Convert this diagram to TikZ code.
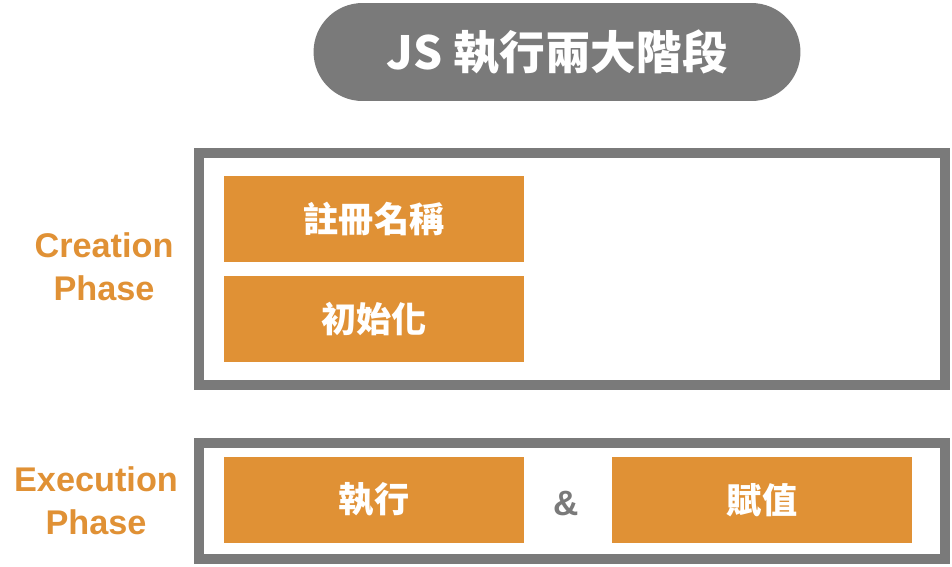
\documentclass[tikz,border=0pt]{standalone}
\usepackage{fontspec}
\setmainfont{Liberation Sans}
\newfontfamily\cjk{Noto Sans CJK TC}
\usetikzlibrary{positioning}
\definecolor{PhaseOrange}{RGB}{224,145,53}
\definecolor{PhaseGray}{RGB}{122,122,122}
\tikzset{
  titlepill/.style={fill=PhaseGray,rounded corners=0.98cm,minimum width=9.74cm,minimum height=1.96cm,inner sep=0pt,text=white,font=\cjk\bfseries\fontsize{26}{30}\selectfont},
  frame/.style={draw=PhaseGray,line width=0.2cm,minimum width=14.92cm,inner sep=0pt},
  obox/.style={fill=PhaseOrange,minimum width=6cm,minimum height=1.72cm,inner sep=0pt,text=white,font=\cjk\bfseries\fontsize{20}{24}\selectfont},
  phaselabel/.style={align=center,text=PhaseOrange,font=\bfseries\fontsize{19.5}{24.5}\selectfont},
}
\begin{document}
\begin{tikzpicture}[x=0.02cm,y=-0.02cm]
    \useasboundingbox (0,0) rectangle (952,566);
    \node[titlepill] (title) at (557,52) {JS\hspace{0.25em}執行兩大階段};
    %% Creation phase
    \node[frame,minimum height=4.64cm] (creation) at (572,269) {};
    \node[obox] (register) at (374,219) {註冊名稱};
    \node[obox] (init)     at (374,319) {初始化};
    \node[phaselabel] (creationlbl) at (104,267) {Creation\\Phase};
    %% Execution phase
    \node[frame,minimum height=2.32cm] (execution) at (572,501) {};
    \node[obox] (run)    at (374,500) {執行};
    \node[obox] (assign) at (762,500) {賦值};
    \node[text=PhaseGray,font=\bfseries\fontsize{20}{24}\selectfont] (amp) at (566,503) {\&};
    \node[phaselabel] (executionlbl) at (96,501) {Execution\\Phase};
\end{tikzpicture}
\end{document}
